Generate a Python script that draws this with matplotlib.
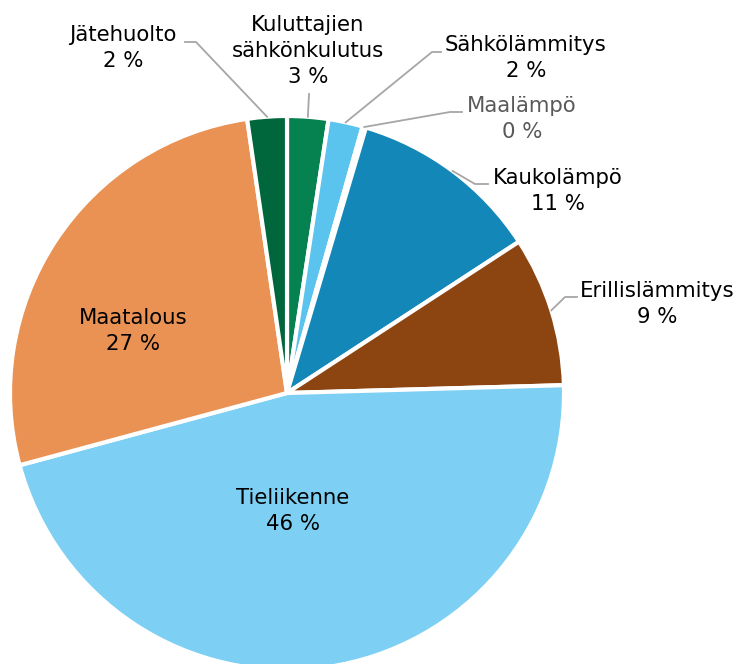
import matplotlib
matplotlib.use("Agg")
import matplotlib.pyplot as plt
import numpy as np

# slices, clockwise from 12 o'clock
labels = ["Kuluttajien\nsähkönkulutus", "Sähkölämmitys", "Maalämpö", "Kaukolämpö",
          "Erillislämmitys", "Tieliikenne", "Maatalous", "Jätehuolto"]
values = [2.4, 2.0, 0.2, 11.2, 8.75, 46.25, 26.9, 2.3]
pct = ["3 %", "2 %", "0 %", "11 %", "9 %", "46 %", "27 %", "2 %"]
colors = ["#05824f", "#5bc4ee", "#ffffff", "#1387b8",
          "#8c4511", "#7dd0f3", "#e99254", "#00663c"]

# layout (pixels of the 738x664 canvas)
CX, CY, R = 287, 393, 277
W, H = 738, 664
FS = 15.3

fig = plt.figure(figsize=(W / 100, H / 100), dpi=100)
ax = fig.add_axes([(CX - R) / W, (H - CY - R) / H, 2 * R / W, 2 * R / H])
ax.pie(values, colors=colors, startangle=90, counterclock=False, radius=1,
       wedgeprops=dict(edgecolor="white", linewidth=3))
ax.set_xlim(-1, 1)
ax.set_ylim(-1, 1)
ax.set_aspect("equal")
ax.axis("off")


def px(x, y):
    """canvas pixel -> pie data coords"""
    return (x - CX) / R, (CY - y) / R


total = sum(values)
cum = np.cumsum([0] + values)
mids = [90 - 360 * (cum[i] + values[i] / 2) / total for i in range(len(values))]

# outside labels: (leader points after the wedge edge, text centre, colour)
outside = {
    0: ([(309, 94)], (308, 51), "black"),
    1: ([(432, 52), (441, 52)], (526, 58), "black"),
    2: ([(450, 112), (462, 112)], (522, 119), "#595959"),
    3: ([(475, 184), (488, 184)], (558, 191), "black"),
    4: ([(565, 297), (577, 297)], (657, 304), "black"),
    7: ([(196, 42), (185, 42)], (123, 48), "black"),
}
for i, (pts, (tx, ty), col) in outside.items():
    a = np.radians(mids[i])
    xs = [np.cos(a)] + [px(*p)[0] for p in pts]
    ys = [np.sin(a)] + [px(*p)[1] for p in pts]
    ax.plot(xs, ys, color="#a6a6a6", lw=1.3, clip_on=False)
    ax.text(*px(tx, ty), f"{labels[i]}\n{pct[i]}", ha="center", va="center",
            fontsize=FS, color=col, linespacing=1.35, clip_on=False)

# inside labels
inside = {5: (293, 511), 6: (133, 331)}
for i, (tx, ty) in inside.items():
    ax.text(*px(tx, ty), f"{labels[i]}\n{pct[i]}", ha="center", va="center",
            fontsize=FS, color="black", linespacing=1.35)

fig.savefig("out.png", dpi=100)
